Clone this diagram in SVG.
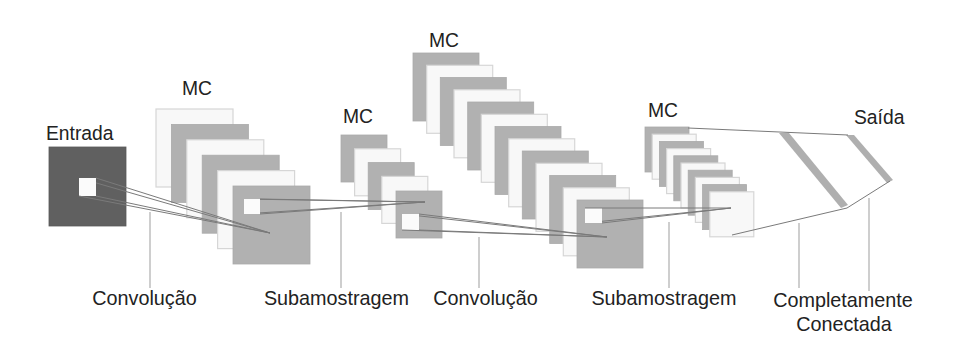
<svg xmlns="http://www.w3.org/2000/svg" width="954" height="345" viewBox="0 0 954 345">
  <style>
    .bg { fill: #ffffff; }
    .g { fill: #b1b1b1; stroke: #aaaaaa; stroke-width: 0.8; }
    .w { fill: #f8f8f8; stroke: #d6d6d6; stroke-width: 1.2; }
    .hole { fill: #fbfbfb; stroke: none; }
    .dark { fill: #606060; stroke: #5a5a5a; stroke-width: 0.8; }
    .band { fill: #afafaf; stroke: none; }
    .link { stroke: #7a7a7a; stroke-width: 1; fill: none; }
    .lead { stroke: #c2c2c2; stroke-width: 1.6; fill: none; }
    .lbl { font-family: "Liberation Sans", Arial, sans-serif; font-size: 19.3px; fill: #222222; }
    .cap { font-size: 19.8px; }
  </style>
  <rect class="bg" x="0" y="0" width="954" height="345"/>

  <!-- input image -->
  <g id="input">
    <rect class="dark" x="49" y="147" width="77" height="79"/>
    <rect class="hole" x="79" y="178" width="17" height="18"/>
    <text class="lbl" x="46" y="140">Entrada</text>
  </g>

  <!-- feature maps after first convolution -->
  <g id="conv1">
    <rect class="w" x="156" y="109" width="77" height="78"/>
    <rect class="g" x="171.4" y="124.4" width="77" height="78"/>
    <rect class="w" x="186.8" y="139.8" width="77" height="78"/>
    <rect class="g" x="202.2" y="155.2" width="77" height="78"/>
    <rect class="w" x="217.6" y="170.6" width="77" height="78"/>
    <rect class="g" x="233" y="186" width="77" height="78"/>
    <rect class="hole" x="244" y="199" width="16" height="15"/>
    <text class="lbl" x="182" y="95">MC</text>
  </g>

  <!-- first subsampling -->
  <g id="pool1">
    <rect class="g" x="341" y="135" width="46" height="47"/>
    <rect class="w" x="354.6" y="148.8" width="46" height="47"/>
    <rect class="g" x="368.2" y="162.6" width="46" height="47"/>
    <rect class="w" x="381.8" y="176.4" width="46" height="47"/>
    <rect class="g" x="396" y="191" width="46" height="47"/>
    <rect class="hole" x="402" y="214" width="17" height="16"/>
    <text class="lbl" x="343" y="123">MC</text>
  </g>

  <!-- feature maps after second convolution -->
  <g id="conv2">
    <rect class="g" x="413" y="53" width="66" height="68"/>
    <rect class="w" x="426.7" y="65.3" width="66" height="68"/>
    <rect class="g" x="440.3" y="77.5" width="66" height="68"/>
    <rect class="w" x="454" y="89.8" width="66" height="68"/>
    <rect class="g" x="467.7" y="102" width="66" height="68"/>
    <rect class="w" x="481.3" y="114.3" width="66" height="68"/>
    <rect class="g" x="495" y="126.5" width="66" height="68"/>
    <rect class="w" x="508.7" y="138.8" width="66" height="68"/>
    <rect class="g" x="522.3" y="151" width="66" height="68"/>
    <rect class="w" x="536" y="163.3" width="66" height="68"/>
    <rect class="g" x="549.7" y="175.5" width="66" height="68"/>
    <rect class="w" x="563.3" y="187.8" width="66" height="68"/>
    <rect class="g" x="577" y="200" width="66" height="68"/>
    <rect class="hole" x="585" y="208" width="17" height="15"/>
    <text class="lbl" x="429" y="47">MC</text>
  </g>

  <!-- second subsampling -->
  <g id="pool2">
    <rect class="g" x="645" y="127" width="44" height="45"/>
    <rect class="w" x="652.2" y="134.2" width="44" height="45"/>
    <rect class="g" x="659.4" y="141.4" width="44" height="45"/>
    <rect class="w" x="666.6" y="148.6" width="44" height="45"/>
    <rect class="g" x="673.8" y="155.8" width="44" height="45"/>
    <rect class="w" x="681" y="163" width="44" height="45"/>
    <rect class="g" x="688.2" y="170.2" width="44" height="45"/>
    <rect class="w" x="695.4" y="177.4" width="44" height="45"/>
    <rect class="g" x="702.6" y="184.6" width="44" height="45"/>
    <rect class="w" x="709.8" y="191.8" width="44" height="45"/>
    <text class="lbl" x="648" y="117">MC</text>
  </g>

  <!-- fully connected layer -->
  <g id="fc">
    <polygon class="band" points="779,133 789,133 848,205 841,208"/>
  </g>

  <!-- output layer -->
  <g id="output">
    <polygon class="band" points="846,135 854,135 893,180 887,183"/>
    <text class="lbl" x="854" y="124">Saída</text>
  </g>

  <!-- receptive-field and layer connectors, leader lines -->
  <g id="connectors">
    <line class="link" x1="96" y1="178" x2="270" y2="233"/>
    <line class="link" x1="96" y1="182.9" x2="270" y2="233"/>
    <line class="link" x1="79" y1="196" x2="270" y2="233"/>
    <line class="link" x1="96" y1="196" x2="270" y2="233"/>

    <line class="link" x1="260" y1="199" x2="425" y2="202"/>
    <line class="link" x1="260" y1="199.3" x2="425" y2="202"/>
    <line class="link" x1="260" y1="212.9" x2="425" y2="202"/>
    <line class="link" x1="260" y1="214" x2="425" y2="202"/>

    <line class="link" x1="419" y1="214" x2="607" y2="237"/>
    <line class="link" x1="419" y1="215.9" x2="607" y2="237"/>
    <line class="link" x1="402" y1="230" x2="607" y2="237"/>
    <line class="link" x1="419" y1="230" x2="607" y2="237"/>

    <line class="link" x1="585" y1="208" x2="731" y2="208"/>
    <line class="link" x1="602" y1="221.3" x2="731" y2="208"/>
    <line class="link" x1="602" y1="223" x2="731" y2="208"/>

    <polyline class="link" points="688,128 848,135"/>
    <polyline class="link" points="732,235 847,208 890,181"/>

    <line class="lead" x1="150" y1="212" x2="150" y2="288"/>
    <line class="lead" x1="341" y1="212" x2="341" y2="288"/>
    <line class="lead" x1="479" y1="237" x2="479" y2="288"/>
    <line class="lead" x1="669" y1="222" x2="669" y2="288"/>
    <line class="lead" x1="799" y1="223" x2="799" y2="288"/>
    <line class="lead" x1="869" y1="198" x2="869" y2="291"/>
  </g>

  <!-- stage captions -->
  <g id="captions">
    <text class="lbl cap" x="144.5" y="305" text-anchor="middle">Convolução</text>
    <text class="lbl cap" x="336.5" y="305" text-anchor="middle">Subamostragem</text>
    <text class="lbl cap" x="485.5" y="305" text-anchor="middle">Convolução</text>
    <text class="lbl cap" x="664" y="305" text-anchor="middle">Subamostragem</text>
    <text class="lbl cap" x="843" y="307" text-anchor="middle">Completamente</text>
    <text class="lbl cap" x="844" y="331" text-anchor="middle">Conectada</text>
  </g>
</svg>
